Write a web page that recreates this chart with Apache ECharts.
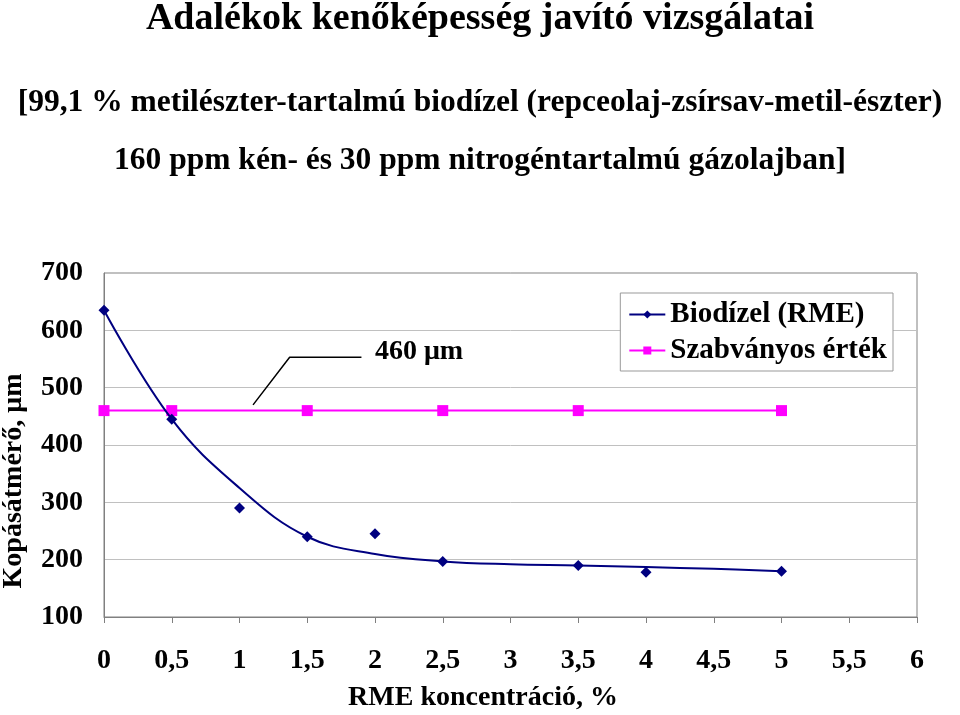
<!DOCTYPE html>
<html>
<head>
<meta charset="utf-8">
<script src="https://cdn.jsdelivr.net/npm/echarts@6/dist/echarts.min.js"></script>
<style>
  html, body { margin: 0; padding: 0; background: #fff; }
  #chart { width: 960px; height: 715px; }
</style>
</head>
<body>
<div id="chart"></div>
<script>
// measured points (RME %, wear scar µm)
const rmeX = [0, 0.5, 1, 1.5, 2, 2.5, 3.5, 4, 5];
const rmeY = [635, 445, 290, 240, 245, 197, 190, 178, 180];
// smoothed trend line
const trendX = [0, 0.5, 1, 1.5, 2, 2.5, 3, 3.5, 4, 4.5, 5];
const trendY = [635, 445, 325, 240, 210, 197, 192, 190, 187, 184, 180];
// standard value line
const stdX = [0, 0.5, 1.5, 2.5, 3.5, 5];
const stdY = [460, 460, 460, 460, 460, 460];
// callout line for the "460 µm" label
const calloutX = [1.1, 1.37, 1.9];
const calloutY = [470, 553, 553];

const pairs = (xs, ys) => xs.map((x, i) => [x, ys[i]]);
const serif = "'Liberation Serif', 'DejaVu Serif', serif";

const chart = echarts.init(document.getElementById("chart"));

const option = {
  backgroundColor: "#fff",
  animation: false,
  textStyle: { fontFamily: serif },
  title: [
    {
      text: "Adalékok kenőképesség javító vizsgálatai",
      left: "center",
      top: -5,
      textStyle: { fontFamily: serif, fontSize: 38, fontWeight: "bold", color: "#000" },
    },
    {
      text: "[99,1 % metilészter-tartalmú biodízel (repceolaj-zsírsav-metil-észter)",
      left: "center",
      top: 82,
      textStyle: { fontFamily: serif, fontSize: 31.5, fontWeight: "bold", color: "#000" },
    },
    {
      text: "160 ppm kén- és 30 ppm nitrogéntartalmú gázolajban]",
      left: "center",
      top: 140,
      textStyle: { fontFamily: serif, fontSize: 31.5, fontWeight: "bold", color: "#000" },
    },
  ],
  grid: {
    left: 104,
    right: 43,
    top: 273,
    bottom: 98,
    show: true,
    borderColor: "#808080",
    borderWidth: 1,
  },
  legend: {
    right: 67,
    top: 293,
    orient: "vertical",
    backgroundColor: "#fff",
    borderColor: "#999",
    borderWidth: 1,
    padding: [7, 6, 6, 8],
    itemGap: 7,
    itemWidth: 36,
    itemHeight: 10,
    textStyle: { fontFamily: serif, fontSize: 29, fontWeight: "bold", color: "#000" },
    data: ["Biodízel (RME)", "Szabványos érték"],
  },
  xAxis: {
    type: "value",
    min: 0,
    max: 6,
    interval: 0.5,
    axisLine: { onZero: false, lineStyle: { color: "#808080" } },
    axisTick: { show: true, length: 6, lineStyle: { color: "#808080" } },
    splitLine: { show: false },
    axisLabel: {
      margin: 30,
      fontFamily: serif,
      fontSize: 28,
      fontWeight: "bold",
      color: "#000",
      formatter: (v) => String(v).replace(".", ","),
    },
  },
  yAxis: {
    type: "value",
    min: 100,
    max: 700,
    interval: 100,
    axisLine: { show: true, lineStyle: { color: "#808080" } },
    axisTick: { show: false },
    splitLine: { lineStyle: { color: "#c0c0c0" } },
    axisLabel: {
      margin: 21,
      fontFamily: serif,
      fontSize: 28,
      fontWeight: "bold",
      color: "#000",
    },
  },
  series: [
    {
      name: "Biodízel (RME)",
      type: "line",
      data: pairs(trendX, trendY),
      smooth: 0.4,
      showSymbol: false,
      symbol: "diamond",
      symbolSize: 10,
      lineStyle: { color: "#000080", width: 2 },
      itemStyle: { color: "#000080" },
      z: 3,
    },
    {
      name: "Biodízel (RME)",
      type: "scatter",
      data: pairs(rmeX, rmeY),
      symbol: "diamond",
      symbolSize: 11,
      itemStyle: { color: "#000080", opacity: 1 },
      z: 4,
    },
    {
      name: "Szabványos érték",
      type: "line",
      data: pairs(stdX, stdY),
      symbol: "rect",
      symbolSize: 11,
      lineStyle: { color: "#ff00ff", width: 2 },
      itemStyle: { color: "#ff00ff" },
      z: 2,
    },
    {
      name: "callout",
      type: "line",
      data: pairs(calloutX, calloutY),
      showSymbol: false,
      silent: true,
      lineStyle: { color: "#000", width: 1.5 },
      z: 1,
    },
  ],
};

chart.setOption(option);

// text annotations positioned from the chart's own scales
const labelPos = chart.convertToPixel({ gridIndex: 0 }, [2.0, 562]);
chart.setOption({
  graphic: [
    {
      type: "text",
      x: labelPos[0],
      y: labelPos[1],
      style: { text: "460 μm", font: "bold 28px " + serif, fill: "#000", textVerticalAlign: "middle" },
    },
    {
      type: "text",
      x: 483,
      y: 698,
      style: { text: "RME koncentráció, %", font: "bold 28px " + serif, fill: "#000", textAlign: "center", textVerticalAlign: "middle" },
    },
    {
      type: "text",
      rotation: Math.PI / 2,
      x: 14,
      y: 481,
      style: { text: "Kopásátmérő, μm", font: "bold 28px " + serif, fill: "#000", textAlign: "center", textVerticalAlign: "middle" },
    },
  ],
});
</script>
</body>
</html>
